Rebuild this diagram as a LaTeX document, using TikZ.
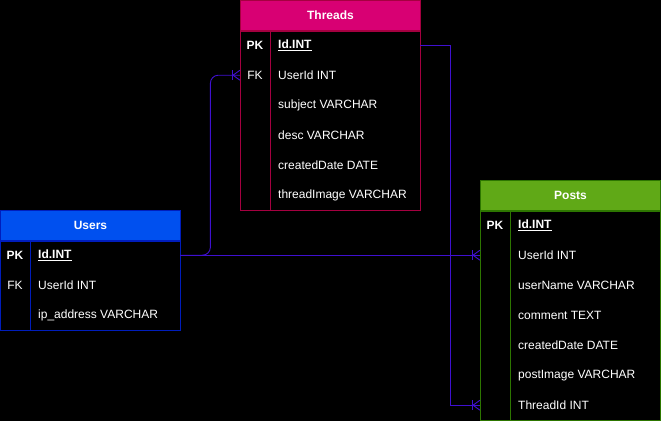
\documentclass[tikz,border=0pt]{standalone}
\usepackage{fontspec}
\setmainfont{Liberation Sans}
\definecolor{usfill}{HTML}{0050EF}
\definecolor{usline}{HTML}{001DBC}
\definecolor{thfill}{HTML}{D80073}
\definecolor{thline}{HTML}{A50040}
\definecolor{pofill}{HTML}{60A917}
\definecolor{poline}{HTML}{2D7600}
\definecolor{relc}{HTML}{3F10D0}
\begin{document}
\begin{tikzpicture}[x=1pt,y=-1pt,font=\fontsize{12}{14}\selectfont]
\tikzset{
  hdr/.style={draw, line width=1pt, minimum width=180pt, minimum height=30pt, inner sep=0pt, anchor=north west, text=white, font=\fontsize{12}{14}\selectfont\bfseries},
  rowbox/.style={minimum width=180pt, minimum height=30pt, inner sep=0pt, anchor=north west},
  keyt/.style={anchor=center, text=white, inner sep=0pt, font=\fontsize{12}{14}\selectfont\bfseries},
  fld/.style={anchor=west, text=white, inner sep=0pt},
  frame/.style={line width=1pt},
  rel/.style={draw=relc, line width=0.9pt},
}
\fill[black] (0,0) rectangle (661,421);
\useasboundingbox (0,0) rectangle (661,421);

% ---------- Users ----------
\node[hdr, fill=usfill, draw=usline] (us-h) at (0,210) {Users};
\node[rowbox] (us-r1) at (0,240) {};
\node[rowbox] (us-r2) at (0,270) {};
\node[rowbox] (us-r3) at (0,300) {};
\draw[frame, usline] (us-h.south west) rectangle (us-r3.south east);
\draw[frame, usline] ([xshift=30pt]us-r1.north west) -- ([xshift=30pt]us-r3.south west);
\node[keyt] (us-k1) at ([xshift=15pt]us-r1.west) {PK};
\node[keyt, font=\fontsize{12}{14}\selectfont] (us-k2) at ([xshift=15pt]us-r2.west) {FK};
\node[fld] (us-f1) at ([xshift=38pt]us-r1.west) {\textbf{\underline{Id.INT}}};
\node[fld] (us-f2) at ([xshift=38pt]us-r2.west) {UserId INT};
\node[fld] (us-f3) at ([xshift=38pt]us-r3.west) {ip\_address VARCHAR};

% ---------- Threads ----------
\node[hdr, fill=thfill, draw=thline] (th-h) at (240,0) {Threads};
\foreach \i [evaluate=\i as \yy using 30*\i] in {1,...,6} {
  \node[rowbox] (th-r\i) at (240,\yy) {};
}
\draw[frame, thline] (th-h.south west) rectangle (th-r6.south east);
\draw[frame, thline] ([xshift=30pt]th-r1.north west) -- ([xshift=30pt]th-r6.south west);
\node[keyt] (th-k1) at ([xshift=15pt]th-r1.west) {PK};
\node[keyt, font=\fontsize{12}{14}\selectfont] (th-k2) at ([xshift=15pt]th-r2.west) {FK};
\node[fld] (th-f1) at ([xshift=38pt]th-r1.west) {\textbf{\underline{Id.INT}}};
\node[fld] (th-f2) at ([xshift=38pt]th-r2.west) {UserId INT};
\node[fld] (th-f3) at ([xshift=38pt]th-r3.west) {subject VARCHAR};
\node[fld] (th-f4) at ([xshift=38pt]th-r4.west) {desc VARCHAR};
\node[fld] (th-f5) at ([xshift=38pt]th-r5.west) {createdDate DATE};
\node[fld] (th-f6) at ([xshift=38pt]th-r6.west) {threadImage VARCHAR};

% ---------- Posts ----------
\node[hdr, fill=pofill, draw=poline] (po-h) at (480,180) {Posts};
\foreach \i [evaluate=\i as \yy using 180+30*\i] in {1,...,7} {
  \node[rowbox] (po-r\i) at (480,\yy) {};
}
\draw[frame, poline] (po-h.south west) rectangle (po-r7.south east);
\draw[frame, poline] ([xshift=30pt]po-r1.north west) -- ([xshift=30pt]po-r7.south west);
\node[keyt] (po-k1) at ([xshift=15pt]po-r1.west) {PK};
\node[fld] (po-f1) at ([xshift=38pt]po-r1.west) {\textbf{\underline{Id.INT}}};
\node[fld] (po-f2) at ([xshift=38pt]po-r2.west) {UserId INT};
\node[fld] (po-f3) at ([xshift=38pt]po-r3.west) {userName VARCHAR};
\node[fld] (po-f4) at ([xshift=38pt]po-r4.west) {comment TEXT};
\node[fld] (po-f5) at ([xshift=38pt]po-r5.west) {createdDate DATE};
\node[fld] (po-f6) at ([xshift=38pt]po-r6.west) {postImage VARCHAR};
\node[fld] (po-f7) at ([xshift=38pt]po-r7.west) {ThreadId INT};

% ---------- Relations ----------
\draw[rel, rounded corners=8pt] (us-r1.east) -- ++(30,0) |- (th-r2.west);
\draw[rel] (us-r1.east) -- (po-r2.west);
\draw[rel] (th-r1.east) -- ++(30,0) |- (po-r7.west);

% crow's feet (many)
\foreach \t in {th-r2, po-r2, po-r7} {
  \draw[rel] ([xshift=-8pt,yshift=5pt]\t.west) -- ([xshift=-8pt,yshift=-5pt]\t.west);
  \draw[rel] ([xshift=-7pt]\t.west) -- ([yshift=5pt]\t.west);
  \draw[rel] ([xshift=-7pt]\t.west) -- ([yshift=-5pt]\t.west);
}
\end{tikzpicture}
\end{document}
